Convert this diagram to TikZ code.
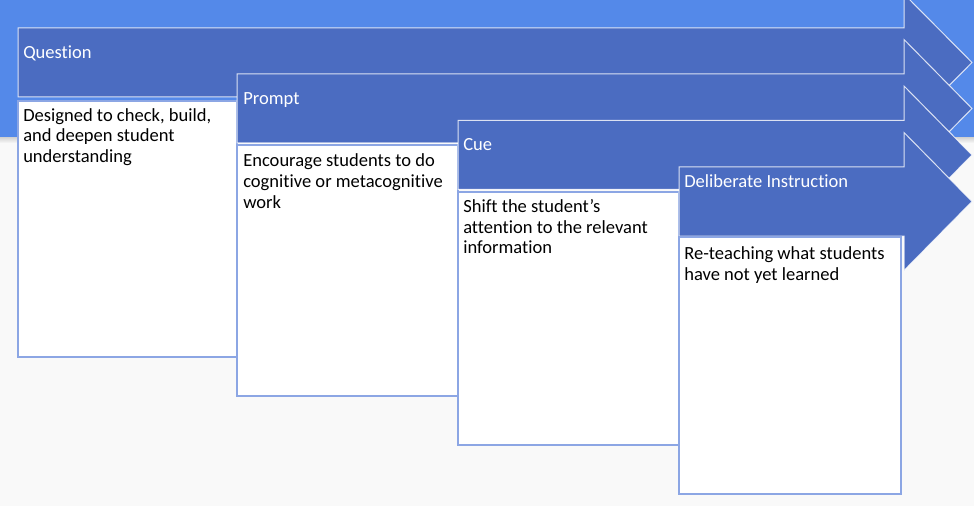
\documentclass[tikz,border=0pt]{standalone}
\usepackage{fontspec}
\setmainfont{Carlito}[Ligatures=CommonOff]

\begin{document}
\begin{tikzpicture}[x=0.75pt,y=0.75pt,yscale=-1,xscale=1,
  banner/.style={draw={rgb, 255:red, 255; green, 255; blue, 255 },draw opacity=0.8,fill={rgb, 255:red, 75; green, 108; blue, 193 },fill opacity=1,line width=0.75},
  card/.style={draw={rgb, 255:red, 140; green, 166; blue, 228 },draw opacity=1,fill={rgb, 255:red, 255; green, 255; blue, 255 },line width=1.2},
  headtext/.style={anchor=base west,inner sep=0pt,text={rgb, 255:red, 255; green, 255; blue, 255 },font=\fontsize{13.9}{15.5}\selectfont},
  bodytext/.style={anchor=north west,inner sep=0pt,align=left,text={rgb, 255:red, 0; green, 0; blue, 0 },font=\fontsize{13.9}{15.5}\selectfont}]
\useasboundingbox (0,0) rectangle (974,506); %set diagram 974 wide, 506 high
\clip (0,0) rectangle (974,506);

%Shape: Rectangle [id:dp30871154]
\fill [color={rgb, 255:red, 249; green, 249; blue, 249 }] (0,0) rectangle (974,506);
%Shape: Rectangle [id:dp58220317]
\fill [color={rgb, 255:red, 84; green, 137; blue, 233 }] (0,0) rectangle (974,138);
%Shape: Rectangle [id:dp11904652]
\shade [top color={rgb, 255:red, 215; green, 215; blue, 215 },bottom color={rgb, 255:red, 249; green, 249; blue, 249 }] (0,138) rectangle (974,143);

%Shape: Right Arrow [id:dp72516093]
\draw [banner] (18,28) -- (904,28) -- (904,-6) -- (972,62.5) -- (904,131) -- (904,97) -- (18,97) -- cycle ;
%Shape: Rectangle [id:dp26408831]
\draw [card] (18,101) rectangle (237,357) ;
%Shape: Right Arrow [id:dp90364125]
\draw [banner] (237,74) -- (904,74) -- (904,39.5) -- (972,108.5) -- (904,177.5) -- (904,143) -- (237,143) -- cycle ;
%Shape: Rectangle [id:dp47705813]
\draw [card] (237,145) rectangle (458,396) ;
%Shape: Right Arrow [id:dp61452270]
\draw [banner] (458,120.5) -- (904,120.5) -- (904,86) -- (972,155) -- (904,224) -- (904,189.5) -- (458,189.5) -- cycle ;
%Shape: Rectangle [id:dp83120976]
\draw [card] (458,192) rectangle (679,445) ;
%Shape: Right Arrow [id:dp15593087]
\draw [banner] (679,167) -- (904,167) -- (904,132.5) -- (972,201.5) -- (904,270.5) -- (904,236) -- (679,236) -- cycle ;
%Shape: Rectangle [id:dp39906241]
\draw [card] (679,237) rectangle (901,494) ;

% Text Node
\node [headtext] (question) at (23,58.3) {Question};
% Text Node
\node [headtext] (prompt) at (243,104.3) {Prompt};
% Text Node
\node [headtext] (cue) at (463,150.7) {Cue};
% Text Node
\node [headtext] (instruction) at (684,187) {Deliberate Instruction};

% Text Node
\node [bodytext] (questiontxt) at (23,108) {Designed to check, build,\\and deepen student\\understanding};
% Text Node
\node [bodytext] (prompttxt) at (243,153.7) {Encourage students to do\\cognitive or metacognitive\\work};
% Text Node
\node [bodytext] (cuetxt) at (463,199) {Shift the student’s\\attention to the relevant\\information};
% Text Node
\node [bodytext] (instructiontxt) at (684,246.7) {Re-teaching what students\\have not yet learned};

\end{tikzpicture}
\end{document}
